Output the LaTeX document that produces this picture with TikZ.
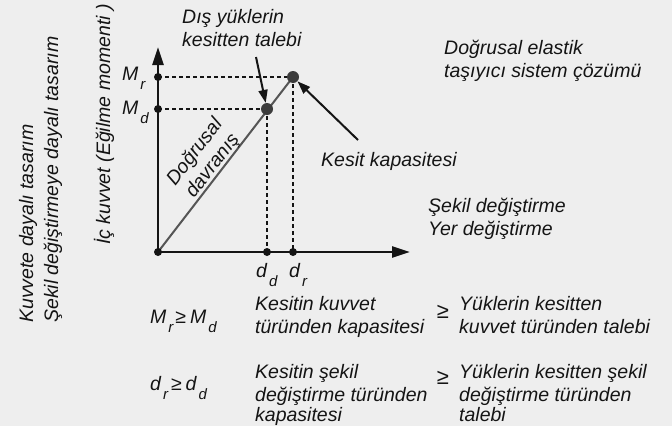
\documentclass[tikz,border=0pt]{standalone}
\usepackage{fontspec}
\setmainfont{Liberation Sans}
\usetikzlibrary{arrows.meta}
\definecolor{bg}{RGB}{238,238,238}
\definecolor{ink}{RGB}{20,20,20}
\definecolor{diag}{RGB}{85,85,85}
\definecolor{bigdot}{RGB}{60,60,60}
\newcommand{\lsub}[1]{\kern2pt\raisebox{-9pt}{\fontsize{15}{15}\selectfont #1}}
\begin{document}
\begin{tikzpicture}[x=1pt,y=-1pt,
  txt/.style={inner sep=0pt, font=\fontsize{19.5}{22.5}\selectfont\itshape, text=ink},
  gebig/.style={inner sep=0pt, font=\fontsize{22}{22}\selectfont, text=ink},
  axisline/.style={line width=2.6pt, draw=ink, -{Triangle[length=18pt,width=11pt]}},
  guide/.style={line width=1.6pt, draw=ink, dash pattern=on 4pt off 3pt},
  ptr/.style={line width=2pt, draw=ink, -{Triangle[length=13pt,width=9pt]}},
  sdot/.style={circle, fill=ink, inner sep=0pt, minimum size=8pt},
  bdot/.style={circle, fill=bigdot, inner sep=0pt, minimum size=12pt},
]
\fill[bg] (0,0) rectangle (672,426);
\useasboundingbox (0,0) rectangle (672,426);

% positions
\coordinate (O) at (158,252);
\coordinate (ytip) at (158,47);
\coordinate (xtip) at (410,252);
\coordinate (mr) at (158,77);
\coordinate (md) at (158,109);
\coordinate (dd) at (267,252);
\coordinate (dr) at (293,252);
\coordinate (Dp) at (267,109);
\coordinate (Rp) at (293,77);
\coordinate (a1s) at (256,57);
\coordinate (a2s) at (358,140);

% guides
\draw[guide] (mr) -- (Rp);
\draw[guide] (md) -- (Dp);
\draw[guide] (Dp) -- (dd);
\draw[guide] (Rp) -- (dr);

% axes
\draw[axisline] (O) -- (ytip);
\draw[axisline] (O) -- (xtip);

% linear behaviour
\draw[line width=2pt, draw=diag] (O) -- (Rp);

% dots
\node[sdot] (odot) at (O) {};
\node[sdot] (mrdot) at (mr) {};
\node[sdot] (mddot) at (md) {};
\node[sdot] (dddot) at (dd) {};
\node[sdot] (drdot) at (dr) {};
\node[bdot] (D) at (Dp) {};
\node[bdot] (R) at (Rp) {};

% pointer arrows
\draw[ptr] (a1s) -- (D);
\draw[ptr] (a2s) -- (R);

% axis labels
\node[txt, anchor=base west] (lmr) at (122,80) {M\lsub{r}};
\node[txt, anchor=base west] (lmd) at (122,114) {M\lsub{d}};
\node[txt, anchor=base west] (ldd) at (256,277) {d\lsub{d}};
\node[txt, anchor=base west] (ldr) at (289,277) {d\lsub{r}};

% rotated texts
\node[txt, rotate=90, anchor=base west] (kuv) at (33,323) {Kuvvete dayalı tasarım};
\node[txt, rotate=90, anchor=base west] (sek) at (58,323) {Şekil değiştirmeye dayalı tasarım};
\node[txt, rotate=90, anchor=base west] (ic) at (110,245) {İç kuvvet (Eğilme momenti )};
\node[txt, rotate=52.4, align=center] (dav) at (204,159) {Doğrusal\\davranış};

% annotations
\node[txt, anchor=base west] (dis1) at (182,23.5) {Dış yüklerin};
\node[txt, anchor=base west] (dis2) at (182,46) {kesitten talebi};
\node[txt, anchor=base west] (de1) at (444,54) {Doğrusal elastik};
\node[txt, anchor=base west] (de2) at (444,77) {taşıyıcı sistem çözümü};
\node[txt, anchor=base west] (kk) at (321,166) {Kesit kapasitesi};
\node[txt, anchor=base west] (sd1) at (428,212) {Şekil değiştirme};
\node[txt, anchor=base west] (sd2) at (428,235) {Yer değiştirme};

% row 1
\node[txt, anchor=base west] (eq1) at (150,323) {M\lsub{r}\kern2pt≥\kern4pt M\lsub{d}};
\node[txt, anchor=base west] (k11) at (255,310) {Kesitin kuvvet};
\node[txt, anchor=base west] (k12) at (255,333) {türünden kapasitesi};
\node[gebig] (ge1) at (443,312) {≥};
\node[txt, anchor=base west] (y11) at (459,310) {Yüklerin kesitten};
\node[txt, anchor=base west] (y12) at (459,333) {kuvvet türünden talebi};

% row 2
\node[txt, anchor=base west] (eq2) at (150,390) {d\lsub{r}\kern3pt≥\kern4pt d\lsub{d}};
\node[txt, anchor=base west] (k21) at (255,378) {Kesitin şekil};
\node[txt, anchor=base west] (k22) at (255,401) {değiştirme türünden};
\node[txt, anchor=base west] (k23) at (255,421) {kapasitesi};
\node[gebig] (ge2) at (443,378) {≥};
\node[txt, anchor=base west] (y21) at (459,378) {Yüklerin kesitten şekil};
\node[txt, anchor=base west] (y22) at (459,401) {değiştirme türünden};
\node[txt, anchor=base west] (y23) at (459,421) {talebi};
\end{tikzpicture}
\end{document}
